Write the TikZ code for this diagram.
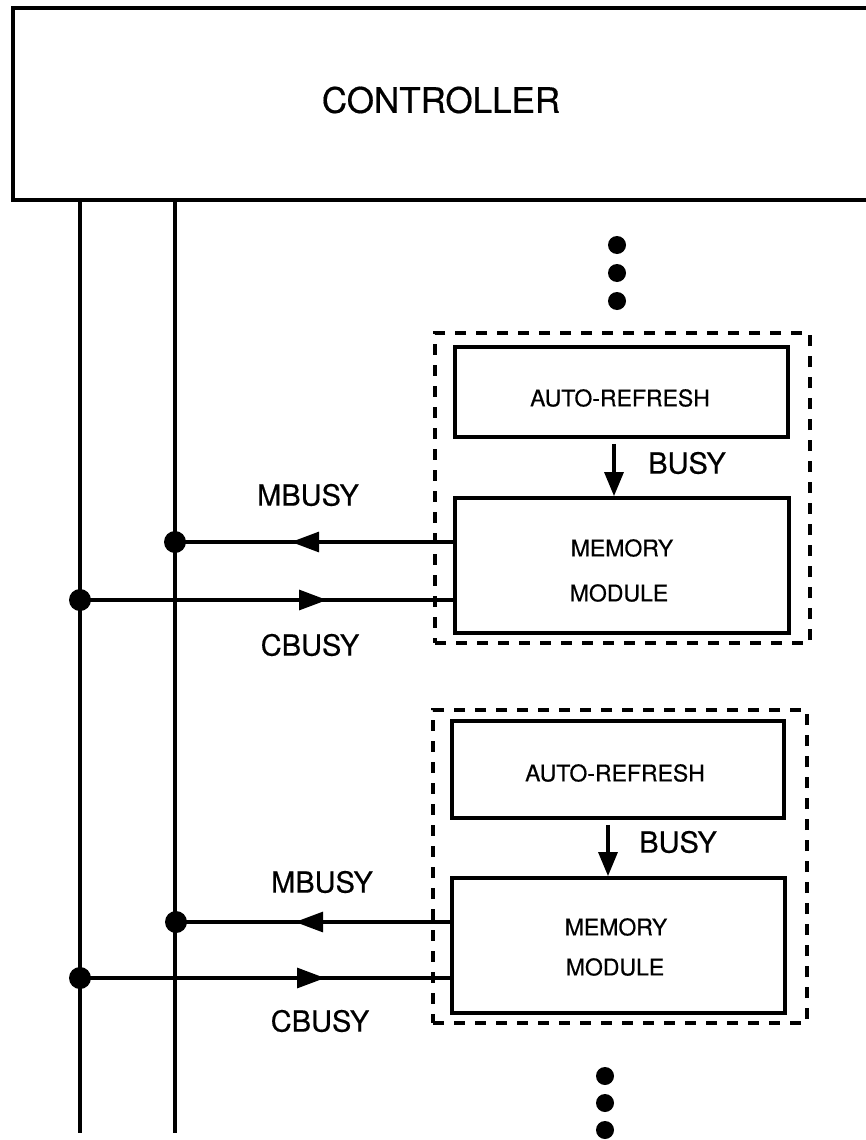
\documentclass[tikz,border=0pt]{standalone}
\usepackage{fontspec}
\setmainfont{TeX Gyre Heros}[FakeBold=0.5]
\usetikzlibrary{arrows.meta,decorations.markings}
\tikzset{
  box/.style={draw,line width=3.8pt,rectangle,inner sep=0pt},
  grp/.style={draw,line width=3.4pt,dash pattern=on 11pt off 10pt,rectangle,inner sep=0pt},
  bus/.style={line width=3.2pt},
  sig/.style={line width=3.2pt},
  junc/.style={circle,fill=black,inner sep=0pt,minimum size=22pt},
  ell/.style={circle,fill=black,inner sep=0pt,minimum size=18pt},
  lab/.style={font=\fontsize{29}{34}\selectfont,inner sep=0pt},
  txt/.style={font=\fontsize{23}{28}\selectfont,inner sep=0pt},
  tri/.tip={Triangle[length=28pt,width=20pt]},
  busyarrow/.style={line width=3.2pt,-{Triangle[length=24pt,width=19pt]}}
}
\begin{document}
\begin{tikzpicture}[x=1pt,y=-1pt]
\useasboundingbox (0,0) rectangle (865,1140);
% controller
\node[draw,line width=3.6pt,inner sep=0pt,minimum width=862pt,minimum height=192pt] (ctrl) at (444,104) {};
\node[font=\fontsize{35}{40}\selectfont,inner sep=0pt] (ctrltxt) at (441,100) {CONTROLLER};
% buses
\coordinate (cbusbot) at (80,1133);
\coordinate (mbusbot) at (175,1133);
\draw[bus] (ctrl.south -| cbusbot) -- (cbusbot);
\draw[bus] (ctrl.south -| mbusbot) -- (mbusbot);
% ellipsis dots
\node[ell] (t1) at (617,245) {};
\node[ell] (t2) at (617,273) {};
\node[ell] (t3) at (617,301) {};
\node[ell] (b1) at (605,1076) {};
\node[ell] (b2) at (605,1103) {};
\node[ell] (b3) at (605,1130) {};
% ---------------- module 1
\node[grp,minimum width=375pt,minimum height=310pt] (g1) at (622.5,488) {};
\node[box,minimum width=333pt,minimum height=90pt] (ar1) at (621.5,392) {};
\node[txt] (ar1t) at (620,398) {AUTO-REFRESH};
\node[box,minimum width=334pt,minimum height=135pt] (mem1) at (622,565.5) {};
\node[txt] (mem1a) at (622,548) {MEMORY};
\node[txt] (mem1b) at (619,593) {MODULE};
\coordinate (a1x) at (614,0);
\draw[busyarrow,shorten <=5pt] (ar1.south -| a1x) -- (mem1.north -| a1x);
\node[lab] (busy1) at (687,463) {BUSY};
\node[junc] (jm1) at (175,542) {};
\node[junc] (jc1) at (80,600) {};
\coordinate (m1s) at (mem1.west |- jm1);
\coordinate (c1s) at (mem1.west |- jc1);
\draw[sig,postaction={decorate},decoration={markings,mark=at position 162pt with {\arrow{tri}}}] (m1s) -- (jm1.center);
\draw[sig,postaction={decorate},decoration={markings,mark=at position 247pt with {\arrow{tri}}}] (jc1.center) -- (c1s);
\node[lab] (mbusy1) at (308,495) {MBUSY};
\node[lab] (cbusy1) at (310,645) {CBUSY};
% ---------------- module 2
\node[grp,minimum width=374pt,minimum height=313pt] (g2) at (620,866.5) {};
\node[box,minimum width=332pt,minimum height=97pt] (ar2) at (618,769.5) {};
\node[txt] (ar2t) at (615,773) {AUTO-REFRESH};
\node[box,minimum width=333pt,minimum height=135pt] (mem2) at (618.5,945.5) {};
\node[txt] (mem2a) at (616,927) {MEMORY};
\node[txt] (mem2b) at (615,967) {MODULE};
\coordinate (a2x) at (608,0);
\draw[busyarrow,shorten <=5pt] (ar2.south -| a2x) -- (mem2.north -| a2x);
\node[lab] (busy2) at (678,842) {BUSY};
\node[junc] (jm2) at (176,922) {};
\node[junc] (jc2) at (80,978) {};
\coordinate (m2s) at (mem2.west |- jm2);
\coordinate (c2s) at (mem2.west |- jc2);
\draw[sig,postaction={decorate},decoration={markings,mark=at position 155pt with {\arrow{tri}}}] (m2s) -- (jm2.center);
\draw[sig,postaction={decorate},decoration={markings,mark=at position 245pt with {\arrow{tri}}}] (jc2.center) -- (c2s);
\node[lab] (mbusy2) at (322,882) {MBUSY};
\node[lab] (cbusy2) at (320,1021) {CBUSY};
\end{tikzpicture}
\end{document}
